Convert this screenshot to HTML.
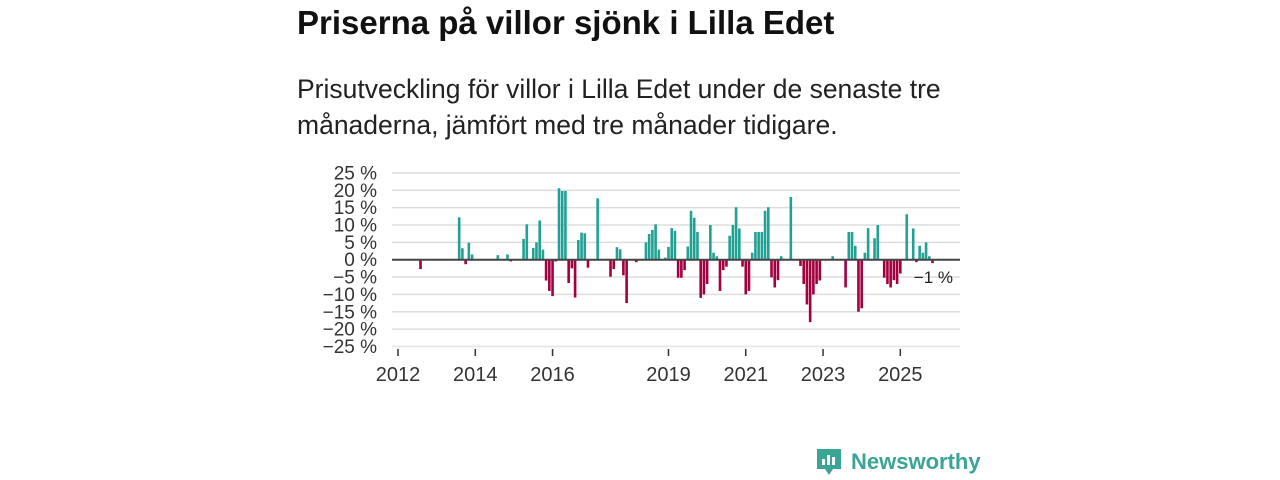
<!DOCTYPE html>
<html><head><meta charset="utf-8"><style>
body{margin:0;width:1280px;height:480px;background:#fff;font-family:"Liberation Sans","DejaVu Sans",sans-serif;position:relative;overflow:hidden}
#title{position:absolute;left:297px;top:4px;font-size:33px;font-weight:bold;color:#111;margin:0}
#sub{position:absolute;left:297px;top:71px;font-size:26.5px;line-height:36px;color:#222;width:700px}
svg{position:absolute;left:0;top:0}
</style></head><body>
<h1 id="title">Priserna på villor sjönk i Lilla Edet</h1>
<div id="sub">Prisutveckling för villor i Lilla Edet under de senaste tre<br>månaderna, jämfört med tre månader tidigare.</div>
<svg id="chart" width="1280" height="480"></svg>
<div style="position:absolute;left:815px;top:447px;display:flex;align-items:center;gap:8px">
<svg width="28" height="30" style="position:static"><path d="M2 2h24v20h-8l-4 6-4-6H2z" fill="#3aa597"/><rect x="7" y="12" width="3" height="6" fill="#fff"/><rect x="12" y="8" width="3" height="10" fill="#fff"/><rect x="17" y="10" width="3" height="8" fill="#fff"/></svg>
<span style="font-size:22px;font-weight:bold;color:#3aa597">Newsworthy</span></div>
<script>
const months=[7,19,20,21,22,23,31,34,35,39,40,42,43,44,45,46,47,48,49,50,51,52,53,54,55,56,57,58,59,62,66,67,68,69,70,71,74,77,78,79,80,81,83,84,85,86,87,88,89,90,91,92,93,94,95,96,97,98,99,100,101,102,103,104,105,106,107,108,109,110,111,112,113,114,115,116,117,118,119,122,125,126,127,128,129,130,131,135,139,140,141,142,143,144,145,146,148,149,151,152,153,154,155,156,158,160,161,162,163,164,165,166];
const values=[-2.7,12.2,3.3,-1.3,4.9,1.5,1.3,1.5,-0.5,6,10.2,3.4,5,11.3,2.9,-6,-9,-10.5,-0.5,20.6,19.8,19.8,-6.7,-2.5,-10.9,5.7,7.8,7.6,-2.3,17.7,-4.9,-2.7,3.6,3,-4.5,-12.5,-0.7,5,7.4,8.6,10.2,2.9,0.6,3.7,9.1,8.3,-5.2,-5.2,-3,3.8,14.1,12.1,8,-11,-10,-7,10,2,1,-9,-3,-2,6.9,10,15.1,9,-2,-10,-9,2,8,8,8,14.1,15.1,-5.1,-8,-5.9,1,18.1,-1.8,-7,-12.9,-18,-10,-7,-6,1,-8,8,8,4,-15,-14,2,9.1,6.2,10,-5.2,-7,-8,-5.9,-7,-4,13.1,9,-0.7,4,2,5,1,-1];
const yTicks=[25,20,15,10,5,0,-5,-10,-15,-20,-25];
const xTicks=[2012,2014,2016,2019,2021,2023,2025];
const svg=document.getElementById('chart');const NS='http://www.w3.org/2000/svg';
const y=v=>259.7-v*3.47;
const xm=m=>398+m*3.22;
const xy=yr=>xm((yr-2012)*12);
function mk(t,a){const e=document.createElementNS(NS,t);for(const k in a)e.setAttribute(k,a[k]);svg.appendChild(e);return e;}
yTicks.forEach(t=>{
const g=mk('line',{x1:392,x2:960,y1:y(t),y2:y(t),stroke:'#ddd','stroke-width':1.5});


const l=mk('text',{x:377,y:y(t)+6.5,'text-anchor':'end','font-size':19,fill:'#333'});
l.textContent=(t<0?'\u2212'+(-t):t)+' %';


});
months.forEach((m,i)=>{
const v=values[i];
const r=mk('rect',{x:xm(m)-1.3,width:2.6,y:Math.min(y(0),y(v)),height:Math.abs(y(v)-y(0)),fill:v>=0?'#21a193':'#a3003f'});


});
const z=mk('line',{x1:392,x2:960,y1:y(0),y2:y(0),stroke:'#444','stroke-width':2});


const ax=mk('line',{x1:392,x2:960,y1:347,y2:347,stroke:'#eee','stroke-width':1});


xTicks.forEach(t=>{
const tk=mk('line',{x1:xy(t),x2:xy(t),y1:349,y2:356,stroke:'#333','stroke-width':1.5});


const l=mk('text',{x:xy(t),y:381,'text-anchor':'middle','font-size':20,fill:'#333'});
l.textContent=t;


});
const last=values[values.length-1];
const lb=mk('text',{x:953,y:283,'text-anchor':'end','font-size':17,fill:'#222'});
lb.textContent=(last<0?'\u2212'+(-last):last)+' %';


</script>
</body></html>
